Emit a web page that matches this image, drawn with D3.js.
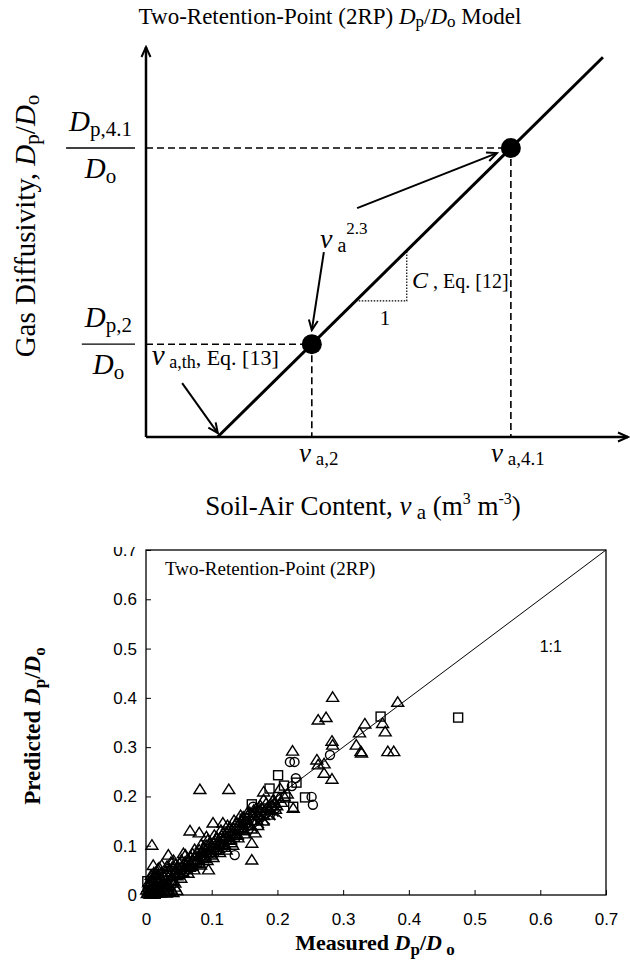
<!DOCTYPE html>
<html>
<head>
<meta charset="utf-8">
<script src="https://cdn.jsdelivr.net/npm/d3@7"></script>
<style>
  body { margin: 0; background: #fff; }
  svg { display: block; }
  text { font-family: "Liberation Serif", "Times New Roman", serif; fill: #000; }
</style>
</head>
<body>
<div id="chart"></div>
<script>
// ---- Top diagram: conceptual 2RP model (relative units 0..1) ----
const vaTh = 0.149;                 // threshold air content, line hits x-axis
const retVa = [0.344, 0.757];       // v_a,2 and v_a,4.1
const retDp = [0.238, 0.741];       // Dp,2/Do and Dp,4.1/Do
const lineEndVa = 0.948;
const arrowFrom = [[0.075, 0.138], [0.369, 0.474], [0.438, 0.587]];
const arrowTo = [[0.149, 0.010], [0.344, 0.274], [0.728, 0.728]];
const slopeCorner = [0.541, 0.349];

// ---- Bottom scatter: measured vs predicted Dp/Do ----
const ticks = [0, 0.1, 0.2, 0.3, 0.4, 0.5, 0.6, 0.7];
const triPts = [
  [0.284,0.401],[0.383,0.391],[0.360,0.348],[0.333,0.347],[0.262,0.355],[0.274,0.360],
  [0.325,0.329],[0.364,0.331],[0.283,0.312],[0.284,0.304],[0.320,0.304],[0.327,0.291],
  [0.328,0.288],[0.368,0.291],[0.377,0.291],[0.223,0.292],[0.260,0.274],[0.262,0.264],
  [0.271,0.266],[0.271,0.247],[0.283,0.235],[0.082,0.214],[0.126,0.214],[0.204,0.216],
  [0.179,0.209],[0.224,0.176],[0.179,0.193],[0.194,0.193],[0.102,0.146],[0.117,0.146],
  [0.067,0.130],[0.081,0.126],[0.092,0.118],[0.009,0.101],[0.034,0.081],[0.057,0.084],
  [0.095,0.051],[0.161,0.071],[0.161,0.105],[0.011,0.060],[0.020,0.055],[0.018,0.052],
  [0.024,0.060],[0.012,0.045],
  [0.031,0.022],[0.029,0.036],[0.034,0.047],[0.036,0.052],[0.038,0.030],
  [0.041,0.028],[0.043,0.044],[0.040,0.056],[0.045,0.061],[0.047,0.039],[0.044,0.024],
  [0.049,0.041],[0.052,0.051],[0.051,0.063],[0.054,0.071],[0.056,0.046],[0.053,0.034],
  [0.058,0.052],[0.061,0.060],[0.063,0.072],[0.060,0.081],[0.066,0.056],[0.064,0.044],
  [0.069,0.062],[0.072,0.069],[0.071,0.083],[0.074,0.092],[0.076,0.066],[0.073,0.051],
  [0.079,0.072],[0.082,0.079],[0.081,0.091],[0.084,0.102],[0.086,0.076],[0.083,0.061],
  [0.089,0.081],[0.091,0.092],[0.092,0.100],[0.094,0.111],[0.096,0.086],[0.093,0.070],
  [0.099,0.087],[0.101,0.096],[0.103,0.107],[0.104,0.121],[0.106,0.092],[0.102,0.076],
  [0.109,0.097],[0.111,0.104],[0.113,0.116],[0.114,0.131],[0.116,0.101],[0.112,0.086],
  [0.119,0.102],[0.121,0.116],[0.123,0.126],[0.124,0.141],[0.126,0.111],[0.122,0.091],
  [0.129,0.112],[0.131,0.124],[0.133,0.136],[0.134,0.151],[0.136,0.121],[0.132,0.101],
  [0.139,0.122],[0.141,0.134],[0.143,0.146],[0.144,0.161],[0.146,0.131],
  [0.149,0.131],[0.151,0.146],[0.153,0.156],[0.154,0.166],[0.156,0.141],
  [0.159,0.141],[0.161,0.151],[0.163,0.162],[0.164,0.172],[0.166,0.126],
  [0.169,0.151],[0.171,0.161],[0.173,0.171],[0.174,0.181],
  [0.179,0.161],[0.181,0.172],[0.183,0.186],
  [0.189,0.172],[0.191,0.181],[0.193,0.191],[0.199,0.181],[0.202,0.196],
  [0.035,0.040],[0.039,0.037],[0.046,0.050],[0.050,0.055],[0.055,0.058],[0.059,0.066],
  [0.062,0.052],[0.065,0.070],[0.068,0.077],[0.070,0.058],[0.075,0.080],[0.078,0.086],
  [0.080,0.064],[0.085,0.089],[0.088,0.096],[0.090,0.074],[0.095,0.099],[0.098,0.106],
  [0.100,0.081],[0.105,0.110],[0.108,0.116],[0.110,0.090],[0.115,0.120],[0.118,0.126],
  [0.120,0.097],[0.125,0.131],[0.128,0.137],[0.130,0.106],[0.135,0.141],[0.138,0.147],
  [0.140,0.116],[0.145,0.151],[0.148,0.158],[0.150,0.124],[0.155,0.161],[0.158,0.167],
  [0.160,0.134],[0.165,0.168],[0.168,0.176],[0.170,0.141],[0.176,0.176],[0.178,0.150],
  [0.185,0.178],[0.187,0.162],[0.195,0.186],[0.197,0.174],[0.206,0.188],[0.210,0.200],
  [0.215,0.205],
  [0.002,0.003],[0.004,0.008],[0.006,0.002],[0.008,0.012],[0.010,0.006],[0.011,0.017],
  [0.013,0.010],[0.015,0.021],[0.016,0.004],[0.018,0.014],[0.020,0.024],[0.021,0.009],
  [0.023,0.018],[0.025,0.028],[0.026,0.012],[0.028,0.006],[0.030,0.015],[0.033,0.009],
  [0.035,0.019],[0.038,0.012],[0.041,0.005],[0.044,0.016],[0.047,0.009],[0.003,0.015],
  [0.005,0.021],[0.007,0.027],[0.009,0.033],[0.012,0.026],[0.014,0.036],[0.017,0.030],
  [0.019,0.040],[0.022,0.034],[0.024,0.045],[0.027,0.040],[0.001,0.010],[0.012,0.002],
  [0.006,0.006],[0.009,0.002],[0.014,0.014],[0.017,0.008],[0.022,0.004],[0.026,0.020],
  [0.031,0.004],[0.036,0.007],[0.004,0.025],[0.008,0.040],[0.015,0.043],[0.029,0.046],
  [0.032,0.058],[0.038,0.066],[0.042,0.070]
];
const sqPts = [
  [0.357,0.362],[0.475,0.360],[0.201,0.243],[0.229,0.228],[0.188,0.216],[0.210,0.222],
  [0.212,0.198],[0.242,0.198],[0.224,0.179],[0.161,0.184],[0.135,0.118],[0.118,0.108],
  [0.092,0.078],[0.072,0.061],[0.052,0.043],[0.038,0.028],[0.020,0.012],[0.008,0.018],
  [0.002,0.028],[0.004,0.006],[0.015,0.003],[0.150,0.155],[0.175,0.165]
];
const circPts = [
  [0.280,0.284],[0.219,0.270],[0.226,0.270],[0.228,0.237],[0.222,0.221],[0.252,0.199],
  [0.254,0.183],[0.135,0.081],[0.163,0.179],[0.172,0.158],[0.148,0.137],[0.128,0.118],
  [0.104,0.084],[0.078,0.070],[0.060,0.048],[0.032,0.022],[0.015,0.009],[0.190,0.176],
  [0.117,0.095]
];
const crossPts = [
  [0.194,0.169],[0.199,0.166],[0.189,0.162],[0.181,0.153],[0.172,0.146],[0.163,0.139],
  [0.152,0.131],[0.141,0.122],[0.122,0.104],[0.103,0.092],[0.083,0.071],[0.054,0.047],
  [0.033,0.026],[0.021,0.016],[0.010,0.008],[0.005,0.003]
];

// add text pieces with sub/superscripts as tspans
function rich(sel, parts) {
  let cur = 0;
  parts.forEach(p => {
    const sh = p.sh || 0;
    const ts = sel.append('tspan').text(p.t).attr('dy', sh - cur);
    cur = sh;
    if (p.it) ts.attr('font-style', 'italic');
    if (p.fs) ts.attr('font-size', p.fs);
    if (p.dx) ts.attr('dx', p.dx);
  });
  return sel;
}

const svg = d3.select('#chart').append('svg')
  .attr('width', 630).attr('height', 962);
svg.append('rect').attr('width', 630).attr('height', 962).attr('fill', '#fff');

const defs = svg.append('defs');
defs.append('marker')
  .attr('id', 'vhead').attr('markerUnits', 'userSpaceOnUse')
  .attr('viewBox', '-12 -6 14 12').attr('refX', 0).attr('refY', 0)
  .attr('markerWidth', 14).attr('markerHeight', 12).attr('orient', 'auto')
  .append('path').attr('d', 'M-10,-4.5L0,0L-10,4.5')
  .attr('fill', 'none').attr('stroke', '#000').attr('stroke-width', 2);

// ================= TOP =================
const xT = d3.scaleLinear().domain([0, 1]).range([146, 628]);
const yT = d3.scaleLinear().domain([0, 1]).range([437, 47]);
const slope = (retDp[1] - retDp[0]) / (retVa[1] - retVa[0]);
const dpAt = va => retDp[0] + slope * (va - retVa[0]);
const vaAt = dp => retVa[0] + (dp - retDp[0]) / slope;

const gTop = svg.append('g');

// title
rich(gTop.append('text').attr('x', 330).attr('y', 24)
  .attr('text-anchor', 'middle').attr('font-size', 23), [
  {t: 'Two-Retention-Point (2RP) '}, {t: 'D', it: 1}, {t: 'p', sh: 3, fs: 17},
  {t: '/', sh: 0}, {t: 'D', it: 1}, {t: 'o', sh: 3, fs: 17}, {t: ' Model', sh: 0}
]);

// dashed guides
retVa.forEach((va, i) => {
  gTop.append('line')
    .attr('x1', xT(0)).attr('y1', yT(retDp[i]))
    .attr('x2', xT(va)).attr('y2', yT(retDp[i]))
    .attr('stroke', '#000').attr('stroke-width', 1.6).attr('stroke-dasharray', '7,4');
  gTop.append('line')
    .attr('x1', xT(va)).attr('y1', yT(retDp[i]))
    .attr('x2', xT(va)).attr('y2', yT(0))
    .attr('stroke', '#000').attr('stroke-width', 1.6).attr('stroke-dasharray', '7,4');
});

// axes with arrows
gTop.append('line').attr('x1', xT(0)).attr('y1', yT(0)).attr('x2', xT(0)).attr('y2', yT(1))
  .attr('stroke', '#000').attr('stroke-width', 2.5).attr('marker-end', 'url(#vhead)');
gTop.append('line').attr('x1', xT(0)).attr('y1', yT(0)).attr('x2', xT(1)).attr('y2', yT(0))
  .attr('stroke', '#000').attr('stroke-width', 2.5).attr('marker-end', 'url(#vhead)');

// model line
gTop.append('line')
  .attr('x1', xT(vaTh)).attr('y1', yT(dpAt(vaTh)))
  .attr('x2', xT(lineEndVa)).attr('y2', yT(dpAt(lineEndVa)))
  .attr('stroke', '#000').attr('stroke-width', 3);

// slope triangle
gTop.append('path')
  .attr('d', d3.line()([
    [xT(vaAt(slopeCorner[1])), yT(slopeCorner[1])],
    [xT(slopeCorner[0]), yT(slopeCorner[1])],
    [xT(slopeCorner[0]), yT(dpAt(slopeCorner[0]))]
  ]))
  .attr('fill', 'none').attr('stroke', '#000').attr('stroke-width', 1.2)
  .attr('stroke-dasharray', '1.5,1.5');

// retention points
gTop.selectAll('circle.rp').data(retVa).enter().append('circle')
  .attr('cx', d => xT(d)).attr('cy', (d, i) => yT(retDp[i])).attr('r', 10)
  .attr('fill', '#000');

// annotation arrows
arrowFrom.forEach((f, i) => {
  gTop.append('line')
    .attr('x1', xT(f[0])).attr('y1', yT(f[1]))
    .attr('x2', xT(arrowTo[i][0])).attr('y2', yT(arrowTo[i][1]))
    .attr('stroke', '#000').attr('stroke-width', 2).attr('marker-end', 'url(#vhead)');
});

// y-axis fractions
const fracNum = [[{t: 'D', it: 1}, {t: 'p,2', sh: 5, fs: 21}],
                 [{t: 'D', it: 1}, {t: 'p,4.1', sh: 5, fs: 21}]];
retDp.forEach((dp, i) => {
  const y0 = yT(dp);
  const num = rich(gTop.append('text').attr('font-size', 29).attr('y', y0 - 17), fracNum[i]);
  const w = num.node().getComputedTextLength();
  const barW = w + 6, right = 135, cx = right - barW / 2;
  num.attr('x', cx).attr('text-anchor', 'middle');
  gTop.append('line').attr('x1', right - barW).attr('x2', right)
    .attr('y1', y0).attr('y2', y0).attr('stroke', '#000').attr('stroke-width', 1.3);
  rich(gTop.append('text').attr('font-size', 29).attr('x', cx).attr('y', y0 + 30)
    .attr('text-anchor', 'middle'), [{t: 'D', it: 1}, {t: 'o', sh: 5, fs: 21}]);
});

// y label
rich(gTop.append('text').attr('font-size', 29).attr('text-anchor', 'middle')
  .attr('transform', `translate(35,226) rotate(-90)`), [
  {t: 'Gas Diffusivity,  '}, {t: 'D', it: 1}, {t: 'p', sh: 4, fs: 21},
  {t: '/', sh: 0}, {t: 'D', it: 1}, {t: 'o', sh: 4, fs: 21}
]);

// x tick labels
const vaLabels = ['a,2', 'a,4.1'];
retVa.forEach((va, i) => {
  rich(gTop.append('text').attr('font-size', 27).attr('x', xT(va) + 7).attr('y', 462)
    .attr('text-anchor', 'middle'), [
    {t: 'v', it: 1}, {t: ' ' + vaLabels[i], sh: 3, fs: 19}
  ]);
});

// x label
rich(gTop.append('text').attr('font-size', 27).attr('x', 363).attr('y', 515)
  .attr('text-anchor', 'middle'), [
  {t: 'Soil-Air Content, '}, {t: 'v', it: 1}, {t: ' a', sh: 4, fs: 21},
  {t: ' (m', sh: 0}, {t: '3', sh: -11, fs: 16}, {t: '  m', sh: 0},
  {t: '-3', sh: -11, fs: 16}, {t: ')', sh: 0}
]);

// annotations
rich(gTop.append('text').attr('font-size', 22)
  .attr('x', xT(0.012)).attr('y', yT(0.185)), [
  {t: 'v', it: 1, fs: 29}, {t: ' a,th', sh: 3, fs: 18}, {t: ', Eq. [13]', sh: 0}
]);
rich(gTop.append('text').attr('font-size', 19)
  .attr('x', xT(0.361)).attr('y', yT(0.485)), [
  {t: 'v', it: 1, fs: 28}, {t: ' a', sh: 4, fs: 20}, {t: '2.3', sh: -14, fs: 17}
]);
rich(gTop.append('text').attr('font-size', 20)
  .attr('x', xT(0.552)).attr('y', yT(0.382)), [
  {t: 'C', it: 1, fs: 24}, {t: ' , Eq. [12]'}
]);
gTop.append('text').attr('font-size', 21).attr('text-anchor', 'middle')
  .attr('x', xT(0.496)).attr('y', yT(0.287)).text('1');

// ================= BOTTOM =================
const xB = d3.scaleLinear().domain([0, 0.7]).range([146, 606]);
const yB = d3.scaleLinear().domain([0, 0.7]).range([895, 550]);
const gBot = svg.append('g');
const fmt = d => d === 0 ? '0' : d.toFixed(1);

gBot.append('rect')
  .attr('x', xB(0)).attr('y', yB(0.7))
  .attr('width', xB(0.7) - xB(0)).attr('height', yB(0) - yB(0.7))
  .attr('fill', 'none').attr('stroke', '#000').attr('stroke-width', 1.3);

defs.append('clipPath').attr('id', 'yclip')
  .append('rect').attr('x', -150).attr('y', 547).attr('width', 160).attr('height', 400);

const gx = gBot.append('g').attr('transform', `translate(0,${yB(0)})`)
  .call(d3.axisBottom(xB).tickValues(ticks).tickFormat(fmt)
    .tickSizeInner(-5).tickSizeOuter(0).tickPadding(18));
const gy = gBot.append('g').attr('transform', `translate(${xB(0)},0)`)
  .attr('clip-path', 'url(#yclip)')
  .call(d3.axisLeft(yB).tickValues(ticks).tickFormat(fmt)
    .tickSizeInner(-5).tickSizeOuter(0).tickPadding(9));
[gx, gy].forEach(g => {
  g.select('.domain').remove();
  g.selectAll('.tick line').attr('stroke', '#000').attr('stroke-width', 1);
  g.selectAll('.tick text').attr('font-size', 17)
    .style('font-family', '"Liberation Sans", Arial, sans-serif');
});

// 1:1 line
gBot.append('line')
  .attr('x1', xB(0)).attr('y1', yB(0)).attr('x2', xB(0.7)).attr('y2', yB(0.7))
  .attr('stroke', '#000').attr('stroke-width', 1);

gBot.append('text').attr('font-size', 19).attr('x', xB(0.029)).attr('y', yB(0.649))
  .text('Two-Retention-Point (2RP)');
gBot.append('text').attr('font-size', 16).attr('text-anchor', 'middle')
  .style('font-family', '"Liberation Sans", Arial, sans-serif')
  .attr('x', xB(0.616)).attr('y', yB(0.493)).text('1:1');

// markers
const mk = gBot.append('g').attr('fill', 'none').attr('stroke', '#000').attr('stroke-width', 1.4);
mk.selectAll('path.tri').data(triPts).enter().append('path')
  .attr('d', 'M0,-5.5L6,4L-6,4Z')
  .attr('transform', d => `translate(${xB(d[0])},${yB(d[1])})`);
mk.selectAll('rect.sq').data(sqPts).enter().append('rect')
  .attr('x', d => xB(d[0]) - 4.5).attr('y', d => yB(d[1]) - 4.5)
  .attr('width', 9).attr('height', 9);
mk.selectAll('circle.ci').data(circPts).enter().append('circle')
  .attr('cx', d => xB(d[0])).attr('cy', d => yB(d[1])).attr('r', 4.5);
mk.selectAll('path.cr').data(crossPts).enter().append('path')
  .attr('d', 'M-5,-5L5,5M-5,5L5,-5')
  .attr('transform', d => `translate(${xB(d[0])},${yB(d[1])})`);

// axis titles
rich(gBot.append('text').attr('font-size', 22).attr('font-weight', 'bold')
  .attr('x', 375).attr('y', 950).attr('text-anchor', 'middle'), [
  {t: 'Measured '}, {t: 'D', it: 1}, {t: 'p', sh: 5, fs: 17},
  {t: '/', sh: 0}, {t: 'D', it: 1}, {t: ' o', sh: 5, fs: 17}
]);
rich(gBot.append('text').attr('font-size', 23).attr('font-weight', 'bold')
  .attr('text-anchor', 'middle').attr('transform', 'translate(40,726) rotate(-90)'), [
  {t: 'Predicted  '}, {t: 'D', it: 1}, {t: 'p', sh: 5, fs: 17},
  {t: '/', sh: 0}, {t: 'D', it: 1}, {t: 'o', sh: 5, fs: 17}
]);
</script>
</body>
</html>
